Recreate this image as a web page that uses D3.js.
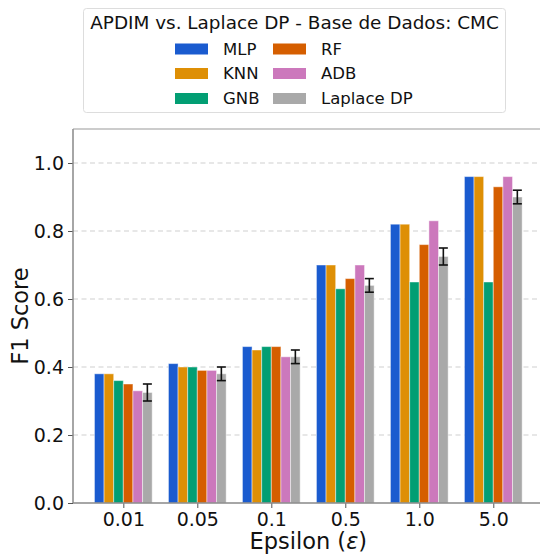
<!DOCTYPE html>
<html><head><meta charset="utf-8">
<script src="https://cdn.jsdelivr.net/npm/d3@7"></script>
<style>body{margin:0;background:#fff}svg{display:block;font-family:"DejaVu Sans",sans-serif}</style>
</head><body><svg id="c" width="540" height="557"></svg>
<script>
const categories = ["0.01", "0.05", "0.1", "0.5", "1.0", "5.0"];
const seriesNames = ["MLP", "KNN", "GNB", "RF", "ADB", "Laplace DP"];
const mlp = [0.38, 0.41, 0.46, 0.70, 0.82, 0.96];
const knn = [0.38, 0.40, 0.45, 0.70, 0.82, 0.96];
const gnb = [0.36, 0.40, 0.46, 0.63, 0.65, 0.65];
const rf = [0.35, 0.39, 0.46, 0.66, 0.76, 0.93];
const adb = [0.33, 0.39, 0.43, 0.70, 0.83, 0.96];
const laplace = [0.325, 0.38, 0.43, 0.64, 0.725, 0.90];
const laplaceErr = [0.025, 0.02, 0.02, 0.02, 0.025, 0.02];
const yTicks = [0.0, 0.2, 0.4, 0.6, 0.8, 1.0];
const colors = ["#1a5bcf", "#de8f05", "#029e73", "#d55e00", "#cc78bc", "#a9a9a9"];

const seriesVals = [mlp, knn, gnb, rf, adb, laplace];
const svg = d3.select("#c");
const L = 73, T = 129, B = 503, R = 543.6;
const x = d3.scaleLinear().domain([-0.68, 5.68]).range([L, R]);
const y = d3.scaleLinear().domain([0, 1.1]).range([B, T]);
const bw = 0.13;

// grid
svg.append("g").selectAll("line").data(yTicks.filter(d => d > 0)).join("line")
  .attr("x1", L).attr("x2", R).attr("y1", d => y(d)).attr("y2", d => y(d))
  .attr("stroke", "#cfcfcf").attr("stroke-width", 1.1).attr("stroke-dasharray", "5,3.5");

// bars
seriesVals.forEach((vals, j) => {
  svg.append("g").selectAll("rect").data(vals).join("rect")
    .attr("x", (d, i) => x(i + (j - 2.5) * bw - bw / 2))
    .attr("width", x(bw) - x(0))
    .attr("y", d => y(d))
    .attr("height", d => y(0) - y(d))
    .attr("fill", colors[j])
    .attr("stroke", "#ffffff").attr("stroke-opacity", 0.45).attr("stroke-width", 1);
});

// error bars
const eg = svg.append("g").attr("stroke", "#111").attr("stroke-width", 1.6);
laplace.forEach((m, i) => {
  const cx = x(i + 2.5 * bw);
  const y1 = y(m + laplaceErr[i]), y2 = y(m - laplaceErr[i]);
  eg.append("line").attr("x1", cx).attr("x2", cx).attr("y1", y1).attr("y2", y2);
  eg.append("line").attr("x1", cx - 4.5).attr("x2", cx + 4.5).attr("y1", y1).attr("y2", y1);
  eg.append("line").attr("x1", cx - 4.5).attr("x2", cx + 4.5).attr("y1", y2).attr("y2", y2);
});

// axes
const yAxis = d3.axisLeft(y).tickValues(yTicks).tickFormat(d3.format(".1f")).tickSize(5).tickPadding(4);
const gy = svg.append("g").attr("transform", `translate(${L},0)`).call(yAxis);
const xAxis = d3.axisBottom(x).tickValues(d3.range(categories.length)).tickFormat(i => categories[i]).tickSize(5).tickPadding(5);
const gx = svg.append("g").attr("transform", `translate(0,${B})`).call(xAxis);
[gx, gy].forEach(g => {
  g.select(".domain").remove();
  g.selectAll(".tick line").attr("stroke", "#555").attr("stroke-width", 1);
  g.selectAll("text").attr("font-size", 19).attr("fill", "#111").attr("font-family", "DejaVu Sans");
});
// spines
svg.append("line").attr("x1", L).attr("x2", L).attr("y1", T).attr("y2", B).attr("stroke", "#888").attr("stroke-width", 1.5);
svg.append("line").attr("x1", L).attr("x2", R).attr("y1", B).attr("y2", B).attr("stroke", "#888").attr("stroke-width", 1.5);
svg.append("line").attr("x1", L).attr("x2", R).attr("y1", T).attr("y2", T).attr("stroke", "#999").attr("stroke-width", 1.2);

// axis labels
svg.append("text").attr("x", (L + R) / 2).attr("y", 549).attr("text-anchor", "middle")
  .attr("font-size", 22.5).attr("fill", "#111")
  .html('Epsilon (<tspan font-style="italic">ε</tspan>)');
svg.append("text").attr("transform", `translate(28,${(T + B) / 2}) rotate(-90)`).attr("text-anchor", "middle")
  .attr("font-size", 22.5).attr("fill", "#111").text("F1 Score");

// legend
const lg = svg.append("g");
lg.append("rect").attr("x", 83.5).attr("y", 8.5).attr("width", 422).attr("height", 104).attr("rx", 3)
  .attr("fill", "#fff").attr("stroke", "#dddddd").attr("stroke-width", 1);
lg.append("text").attr("x", 294.5).attr("y", 29).attr("text-anchor", "middle").attr("font-size", 18.4).attr("fill", "#111")
  .text("APDIM vs. Laplace DP - Base de Dados: CMC");
const colX = [175, 273], rowY = [48.5, 73, 98];
seriesNames.forEach((name, k) => {
  const c = Math.floor(k / 3), r = k % 3;
  lg.append("rect").attr("x", colX[c]).attr("y", rowY[r] - 5).attr("width", 33).attr("height", 11).attr("fill", colors[k]);
  lg.append("text").attr("x", colX[c] + 48).attr("y", rowY[r] + 6).attr("font-size", 16.5).attr("fill", "#111").text(name);
});
</script></body></html>
